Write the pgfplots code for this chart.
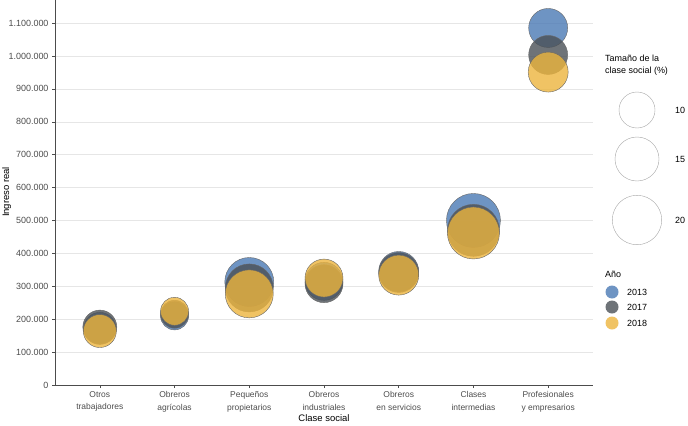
\documentclass[border=0pt]{standalone}
\usepackage{fontspec}
\setmainfont{Liberation Sans}
\usepackage{pgfplots}
\pgfplotsset{compat=1.18}
\usepackage{pgfplotstable}
\definecolor{cA}{HTML}{4A79B4}
\definecolor{cB}{HTML}{4A5056}
\definecolor{cC}{HTML}{ECB43D}
\definecolor{tickgray}{HTML}{4D4D4D}
\definecolor{gridgray}{HTML}{E6E6E6}

\pgfplotstableread{
x y r
1 172000 16
2 210000 14
3 313000 24.5
4 315000 19
5 345000 20
6 500000 27
7 1085000 19.5
}\dataA
\pgfplotstableread{
x y r
1 176000 17
2 215000 14
3 295000 24
4 308000 19
5 342000 20
6 470000 26
7 1003000 19.5
}\dataB
\pgfplotstableread{
x y r
1 164000 16.5
2 224000 14
3 277000 24
4 325000 19
5 334000 20
6 462000 26
7 951000 20
}\dataC

\begin{document}
\begin{tikzpicture}[x=1bp,y=1bp]
\path[use as bounding box] (0,0) rectangle (688,425);
\begin{axis}[
  at={(55bp,40bp)}, anchor=south west,
  scale only axis, width=538bp, height=385bp,
  xmin=0.4, xmax=7.6, ymin=0, ymax=1170000,
  axis lines*=left, axis line style={-, black!70, line width=0.5bp},
  xtick={1,...,7},
  xticklabels={{Otros\\trabajadores},{Obreros\\agrícolas},{Pequeños\\propietarios},{Obreros\\industriales},{Obreros\\en servicios},{Clases\\intermedias},{Profesionales\\y empresarios}},
  xticklabel style={align=center, font=\fontsize{8.5}{12.5}\selectfont, text=tickgray},
  ytick={0,100000,...,1100000},
  scaled y ticks=false,
  yticklabel style={font=\fontsize{9}{10}\selectfont, text=tickgray},
  /pgf/number format/.cd, fixed, 1000 sep={.}, assume math mode=true, /pgfplots/.cd,
  tick align=outside, major tick length=3bp,
  tick style={black!70, line width=0.5bp},
  ymajorgrids, grid style={gridgray, line width=0.5bp},
  clip=false,
]
\addplot[only marks, scatter, mark=*,
  scatter/use mapped color={draw=black!60, fill=cA},
  mark options={fill opacity=0.8, line width=0.4bp},
  visualization depends on={\thisrow{r}\as\rad},
  scatter/@pre marker code/.append style={/tikz/mark size=\rad bp}]
  table[x=x,y=y] {\dataA};
\addplot[only marks, scatter, mark=*,
  scatter/use mapped color={draw=black!60, fill=cB},
  mark options={fill opacity=0.8, line width=0.4bp},
  visualization depends on={\thisrow{r}\as\rad},
  scatter/@pre marker code/.append style={/tikz/mark size=\rad bp}]
  table[x=x,y=y] {\dataB};
\addplot[only marks, scatter, mark=*,
  scatter/use mapped color={draw=black!60, fill=cC},
  mark options={fill opacity=0.8, line width=0.4bp},
  visualization depends on={\thisrow{r}\as\rad},
  scatter/@pre marker code/.append style={/tikz/mark size=\rad bp}]
  table[x=x,y=y] {\dataC};
\end{axis}
% axis titles
\node[rotate=90, anchor=base, font=\fontsize{9.5}{11}\selectfont] at (9,233) {Ingreso real};
\node[anchor=north, inner sep=1pt, font=\fontsize{9.5}{11}\selectfont] at (324,12) {Clase social};
% size legend
\node[anchor=north west, align=left, inner sep=0pt, font=\fontsize{9}{11.5}\selectfont] at (605,370) {Tamaño de la\\clase social (\%)};
\draw[gray!70, line width=0.4bp] (637,315) circle (18);
\draw[gray!70, line width=0.4bp] (637,266) circle (22);
\draw[gray!70, line width=0.4bp] (637,205) circle (24.7);
\node[font=\fontsize{9}{10}\selectfont] at (680,315) {10};
\node[font=\fontsize{9}{10}\selectfont] at (680,266) {15};
\node[font=\fontsize{9}{10}\selectfont] at (680,205) {20};
% colour legend
\node[anchor=west, inner sep=0pt, font=\fontsize{9}{10}\selectfont] at (605,151) {Año};
\fill[cA, fill opacity=0.8] (612,133) circle (6.5);
\fill[cB, fill opacity=0.8] (612,118) circle (6.5);
\fill[cC, fill opacity=0.8] (612,102) circle (6.5);
\node[anchor=west, inner sep=0pt, font=\fontsize{9}{10}\selectfont] at (627,133) {2013};
\node[anchor=west, inner sep=0pt, font=\fontsize{9}{10}\selectfont] at (627,118) {2017};
\node[anchor=west, inner sep=0pt, font=\fontsize{9}{10}\selectfont] at (627,102) {2018};
\end{tikzpicture}
\end{document}
